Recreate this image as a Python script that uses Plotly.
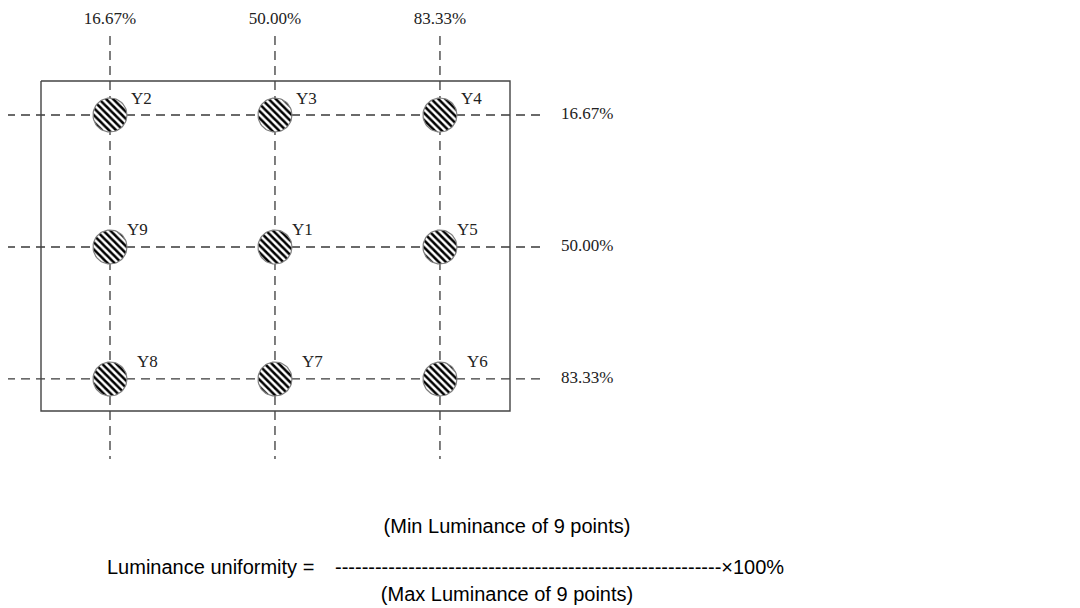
import numpy as np
import plotly.graph_objects as go

# measuring positions, given as percent of the frame
col_pct = [16.67, 50.00, 83.33]
row_pct = [16.67, 50.00, 83.33]
col_labels = ["16.67%", "50.00%", "83.33%"]
row_labels = ["16.67%", "50.00%", "83.33%"]
point_names = [
    ["Y2", "Y3", "Y4"],
    ["Y9", "Y1", "Y5"],
    ["Y8", "Y7", "Y6"],
]

formula_left = "Luminance uniformity ="
formula_top = "(Min Luminance of 9 points)"
formula_bottom = "(Max Luminance of 9 points)"
formula_bar = "-" * 58 + "×100%"

W, H = 1080, 608
SERIF = "Liberation Serif, Times New Roman, serif"
SANS = "Liberation Sans, Arial, sans-serif"
GREY = "#3a3a3a"


def px_x(p):
    # diagram is drawn roughly, not to scale
    return 102 + (p - 16.67) * 4.95


def px_y(p):
    return 107 + (p - 16.67) * 3.96


xs = [px_x(p) for p in col_pct]
ys = [px_y(p) for p in row_pct]

fig = go.Figure()

dash = dict(color=GREY, width=1.3, dash="9px,6px")

# vertical guide lines
for x in xs:
    fig.add_trace(go.Scatter(x=[x, x], y=[28, 451], mode="lines", line=dash))

# horizontal guide lines
for y in ys:
    fig.add_trace(go.Scatter(x=[-2, 537], y=[y, y], mode="lines", line=dash))

# panel frame
frame_x = [33, 502, 502, 33, 33]
frame_y = [73, 73, 403, 403, 73]
fig.add_trace(go.Scatter(
    x=frame_x, y=frame_y, mode="lines",
    line=dict(color="#444444", width=1.4),
))

# hatched measuring spots
theta = np.linspace(0, 2 * np.pi, 60)
r = 17
for i, y in enumerate(ys):
    for j, x in enumerate(xs):
        fig.add_trace(go.Scatter(
            x=x + r * np.cos(theta),
            y=y + r * np.sin(theta),
            mode="lines",
            fill="toself",
            fillcolor="white",
            fillpattern=dict(shape="\\", fgcolor="black", fgopacity=1,
                             bgcolor="white", size=5, solidity=0.5),
            line=dict(color="#808080", width=1.2),
        ))

# spot names, nudged to the upper right of each spot
name_dx = [21, 17, 27]
name_dy = [-15, -16, -16]
name_x, name_y, name_t = [], [], []
for i, y in enumerate(ys):
    for j, x in enumerate(xs):
        name_x.append(x + name_dx[i])
        name_y.append(y + name_dy[i])
        name_t.append(point_names[i][j])
fig.add_trace(go.Scatter(
    x=name_x, y=name_y, text=name_t, mode="text",
    textposition="middle right",
    textfont=dict(family=SERIF, size=17, color="#222222"),
))

# column percentages on top
fig.add_trace(go.Scatter(
    x=xs, y=[12] * 3, text=col_labels, mode="text",
    textposition="middle center",
    textfont=dict(family=SERIF, size=17, color="#222222"),
))

# row percentages on the right
fig.add_trace(go.Scatter(
    x=[553] * 3, y=ys, text=row_labels, mode="text",
    textposition="middle right",
    textfont=dict(family=SERIF, size=17, color="#222222"),
))

# formula
sans = dict(family=SANS, size=20, color="black")
fig.add_trace(go.Scatter(
    x=[99], y=[561], text=[formula_left], mode="text",
    textposition="middle right", textfont=sans,
))
fig.add_trace(go.Scatter(
    x=[327], y=[561], text=[formula_bar], mode="text",
    textposition="middle right", textfont=sans,
))
fig.add_trace(go.Scatter(
    x=[499, 499], y=[520, 588], text=[formula_top, formula_bottom],
    mode="text", textposition="middle center", textfont=sans,
))

fig.update_layout(
    width=W, height=H,
    margin=dict(l=0, r=0, t=0, b=0),
    paper_bgcolor="white", plot_bgcolor="white",
    showlegend=False,
    xaxis=dict(range=[0, W], visible=False, fixedrange=True),
    yaxis=dict(range=[H, 0], visible=False, fixedrange=True),
)

fig.write_html("out.html")
